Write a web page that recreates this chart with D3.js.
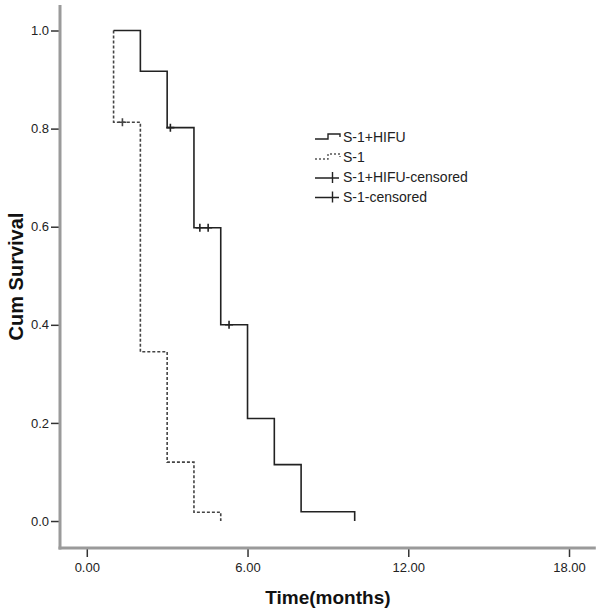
<!DOCTYPE html>
<html>
<head>
<meta charset="utf-8">
<script src="https://cdn.jsdelivr.net/npm/d3@7"></script>
<style>
  html, body { margin: 0; padding: 0; background: #fff; }
  svg { display: block; font-family: "Liberation Sans", Arial, sans-serif; }
</style>
</head>
<body>
<svg id="chart" width="600" height="615"></svg>
<script>
// ---- data ----
const xTicks = [0, 6, 12, 18];
const yTicks = [0.0, 0.2, 0.4, 0.6, 0.8, 1.0];

// S-1+HIFU (solid): step points (time, cumulative survival)
const hifuTimes = [1, 2, 3, 4, 5, 6, 7, 8, 10];
const hifuSurv  = [1.0, 0.917, 0.802, 0.598, 0.400, 0.209, 0.115, 0.019, 0.0];
const hifuCensored = [3.12, 4.22, 4.53, 5.31];

// S-1 (dashed)
const s1Times = [1, 1, 2, 3, 4, 5];
const s1Surv  = [1.0, 0.813, 0.345, 0.120, 0.018, 0.0];
const s1Censored = [1.33];

const legendLabels = ["S-1+HIFU", "S-1", "S-1+HIFU-censored", "S-1-censored"];

// ---- layout ----
const svg = d3.select("#chart");
const x = d3.scaleLinear().domain([-1, 19]).range([60, 595.8]);
const y = d3.scaleLinear().domain([-0.055, 1.052]).range([548, 5]);

const fmtX = d3.format(".2f");
const fmtY = d3.format(".1f");

// axes ticks
const gy = svg.append("g").attr("transform", `translate(${x(-1)},0)`)
  .call(d3.axisLeft(y).tickValues(yTicks).tickFormat(fmtY).tickSize(9).tickPadding(2));
const gx = svg.append("g").attr("transform", `translate(0,${y(-0.055)})`)
  .call(d3.axisBottom(x).tickValues(xTicks).tickFormat(fmtX).tickSize(9).tickPadding(6));
[gx, gy].forEach(g => {
  g.select(".domain").remove();
  g.selectAll(".tick line").attr("stroke", "#333").attr("stroke-width", 1.5);
  g.selectAll(".tick text").attr("fill", "#222").style("font-size", "13px")
    .style("font-family", "'Liberation Sans', Arial, sans-serif");
});

// axis lines (thick gray)
svg.append("line").attr("x1", x(-1)).attr("x2", x(-1)).attr("y1", y(1.052)).attr("y2", y(-0.055) + 1.5)
  .attr("stroke", "#9a9a9a").attr("stroke-width", 3);
svg.append("line").attr("x1", x(-1) - 1.5).attr("x2", x(19)).attr("y1", y(-0.055)).attr("y2", y(-0.055))
  .attr("stroke", "#9a9a9a").attr("stroke-width", 3);

// axis titles
svg.append("text").attr("x", (x(-1) + x(19)) / 2).attr("y", 604)
  .attr("text-anchor", "middle").attr("font-weight", "bold").style("font-size", "19px").attr("fill", "#111")
  .text("Time(months)");
svg.append("text").attr("transform", `translate(23,${(y(1.052) + y(-0.055)) / 2}) rotate(-90)`)
  .attr("text-anchor", "middle").attr("font-weight", "bold").style("font-size", "20px").attr("fill", "#111")
  .text("Cum Survival");

// curves
const line = d3.line().x(d => x(d[0])).y(d => y(d[1])).curve(d3.curveStepAfter);
const hifuPts = hifuTimes.map((t, i) => [t, hifuSurv[i]]);
const s1Pts = s1Times.map((t, i) => [t, s1Surv[i]]);

svg.append("path").attr("d", line(s1Pts)).attr("fill", "none")
  .attr("stroke", "#444").attr("stroke-width", 1.6).attr("stroke-dasharray", "3,2");
svg.append("path").attr("d", line(hifuPts)).attr("fill", "none")
  .attr("stroke", "#222").attr("stroke-width", 1.6);

function survAt(times, surv, t) {
  let s = surv[0];
  for (let i = 0; i < times.length; i++) if (times[i] <= t) s = surv[i];
  return s;
}
function drawCensor(ts, times, surv, color) {
  ts.forEach(t => {
    const cx = x(t), cy = y(survAt(times, surv, t));
    svg.append("path").attr("d", `M${cx - 4},${cy}H${cx + 4}M${cx},${cy - 4}V${cy + 4}`)
      .attr("stroke", color).attr("stroke-width", 1.6).attr("fill", "none");
  });
}
drawCensor(hifuCensored, hifuTimes, hifuSurv, "#222");
drawCensor(s1Censored, s1Times, s1Surv, "#444");

// legend
const legY = [137, 157, 177, 196.5];
const leg = svg.append("g");
legendLabels.forEach((lab, i) => {
  const cy = legY[i];
  if (i < 2) {
    leg.append("path").attr("d", `M315,${cy + 2}H328V${cy - 3}H340V${cy}`)
      .attr("fill", "none").attr("stroke", i === 0 ? "#222" : "#555").attr("stroke-width", 1.4)
      .attr("stroke-dasharray", i === 0 ? null : "2,2");
  } else {
    leg.append("path").attr("d", `M315,${cy + 1}H339M332.5,${cy - 5}V${cy + 6}`)
      .attr("fill", "none").attr("stroke", "#222").attr("stroke-width", 1.4);
  }
  leg.append("text").attr("x", 343).attr("y", cy + 5).style("font-size", "14px").attr("fill", "#222").text(lab);
});
</script>
</body>
</html>
